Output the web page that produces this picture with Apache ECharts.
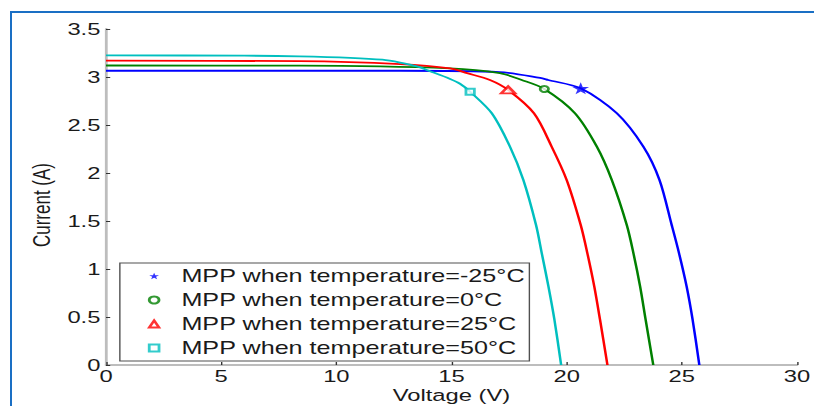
<!DOCTYPE html>
<html>
<head>
<meta charset="utf-8">
<script src="https://cdn.jsdelivr.net/npm/echarts@6/dist/echarts.min.js"></script>
<style>
  body { margin: 0; background: #fff; overflow: hidden; }
  #frame { position: absolute; left: 10px; top: 11px; width: 900px; height: 500px;
           border-left: 2px solid #1a6fc4; border-top: 2px solid #1a6fc4; }
  /* the figure is stretched horizontally, so draw narrow and scale */
  #main { position: absolute; left: 0; top: 0; width: 582px; height: 406px;
          transform: scaleX(1.3986); transform-origin: 0 0; }
</style>
</head>
<body>
<div id="frame"></div>
<div id="main"></div>
<script>
// tick labels
var xTicks = [0, 5, 10, 15, 20, 25, 30];
var yTicks = [0, 0.5, 1, 1.5, 2, 2.5, 3, 3.5];

// I-V curves (voltage V, current A)
var vBlue = [0, 12.77, 17.1, 18.85, 19.2, 20.61, 22.18, 23.33, 24.03, 24.56, 24.88, 25.21, 25.47, 25.76];
var iBlue = [3.065, 3.065, 3.05, 2.99, 2.969, 2.882, 2.622, 2.274, 1.927, 1.458, 1.163, 0.816, 0.469, 0];

var vGreen = [0, 8.4, 14.94, 17.1, 18.05, 19.03, 20.36, 21.31, 21.96, 22.61, 22.9, 23.19, 23.43, 23.76];
var iGreen = [3.12, 3.118, 3.09, 3.04, 2.969, 2.875, 2.622, 2.274, 1.927, 1.458, 1.163, 0.816, 0.469, 0];

var vRed = [0, 8.4, 12.77, 14.94, 15.68, 16.67, 17.46, 18.58, 19.35, 20.0, 20.61, 20.9, 21.2, 21.45, 21.77];
var iRed = [3.17, 3.165, 3.135, 3.09, 3.04, 2.969, 2.865, 2.622, 2.274, 1.927, 1.458, 1.163, 0.816, 0.469, 0];

var vCyan = [0, 6, 8.4, 10.6, 12.0, 12.77, 13.5, 14.07, 14.94, 15.37, 15.81, 16.75, 17.54, 18.12, 18.67, 18.92, 19.21, 19.47, 19.76];
var iCyan = [3.225, 3.222, 3.215, 3.2, 3.18, 3.15, 3.11, 3.06, 2.98, 2.93, 2.847, 2.622, 2.274, 1.927, 1.458, 1.163, 0.816, 0.469, 0];

// maximum power points
var mppNames = ['MPP when temperature=-25\u00B0C', 'MPP when temperature=0\u00B0C',
                'MPP when temperature=25\u00B0C', 'MPP when temperature=50\u00B0C'];
var mppV = [20.61, 19.03, 17.46, 15.81];
var mppI = [2.882, 2.875, 2.865, 2.847];

var colors = ['#0000ff', '#008000', '#ff0000', '#00bfbf'];
var starPath = 'path://M50,0L61.8,35.3L99,35.3L68.8,57.1L80.3,92.4L50,70.6L19.7,92.4L31.2,57.1L1,35.3L38.2,35.3Z';
var symbols = [starPath, 'emptyCircle', 'emptyTriangle', 'emptyRect'];
var symbolSizes = [12, 6, [10, 7], 6];

function zip(v, i) {
  return v.map(function (x, k) { return [x, i[k]]; });
}

var curves = [zip(vBlue, iBlue), zip(vGreen, iGreen), zip(vRed, iRed), zip(vCyan, iCyan)];

var series = [];
curves.forEach(function (d, k) {
  series.push({
    type: 'line',
    data: d,
    smooth: 0.3,
    symbol: 'none',
    silent: true,
    lineStyle: { color: colors[k], width: 1.8 },
    itemStyle: { color: colors[k] },
    z: 2
  });
});
mppNames.forEach(function (name, k) {
  series.push({
    type: 'scatter',
    name: name,
    data: [[mppV[k], mppI[k]]],
    symbol: symbols[k],
    symbolSize: symbolSizes[k],
    itemStyle: { color: colors[k], borderWidth: k === 0 ? 0 : 1.2 },
    z: 3
  });
});

var font = 'Liberation Sans';
var chart = echarts.init(document.getElementById('main'), null, { renderer: 'svg' });
chart.setOption({
  animation: false,
  textStyle: { fontFamily: font },
  grid: { left: 75.8, right: 12.15, top: 29, bottom: 41, containLabel: false, outerBoundsMode: 'none' },
  legend: {
    data: mppNames,
    orient: 'vertical',
    left: 85.7,
    top: 263,
    padding: [4, 3, 4, 20],
    itemWidth: 7,
    itemHeight: 7,
    itemGap: 6,
    borderColor: '#505050',
    borderWidth: 1,
    backgroundColor: '#fff',
    textStyle: { fontFamily: font, fontSize: 18, color: '#1a1a1a', padding: [0, 0, 0, 11] }
  },
  xAxis: {
    type: 'value',
    min: xTicks[0],
    max: xTicks[xTicks.length - 1],
    interval: xTicks[1] - xTicks[0],
    name: 'Voltage (V)',
    nameLocation: 'middle',
    nameGap: 21,
    nameMoveOverlap: false,
    nameTextStyle: { fontFamily: font, fontSize: 17, color: '#1a1a1a' },
    axisLine: { lineStyle: { color: '#bdbdbd', width: 2 } },
    axisTick: { inside: true, length: 3, lineStyle: { color: '#333', width: 1 } },
    axisLabel: { fontFamily: font, fontSize: 17, color: '#1a1a1a', margin: 2 },
    splitLine: { show: false }
  },
  yAxis: {
    type: 'value',
    min: yTicks[0],
    max: yTicks[yTicks.length - 1],
    interval: yTicks[1] - yTicks[0],
    name: 'Current (A)',
    nameLocation: 'middle',
    nameGap: 38,
    nameMoveOverlap: false,
    nameTextStyle: { fontFamily: font, fontSize: 17, color: '#1a1a1a', padding: [0, 16, 0, 0] },
    axisLine: { show: true, lineStyle: { color: '#bdbdbd', width: 2 } },
    axisTick: { show: true, inside: true, length: 3, lineStyle: { color: '#333', width: 1 } },
    axisLabel: { fontFamily: font, fontSize: 17, color: '#1a1a1a', margin: 4 },
    splitLine: { show: false }
  },
  series: series
});
</script>
</body>
</html>
